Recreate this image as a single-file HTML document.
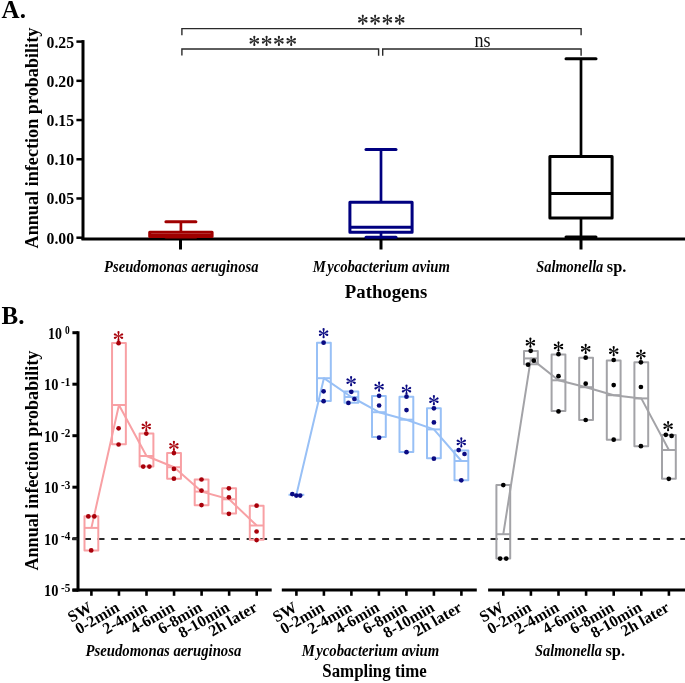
<!DOCTYPE html>
<html><head><meta charset="utf-8"><style>
html,body{margin:0;padding:0;background:#fff;width:685px;height:683px;overflow:hidden}
svg{display:block;will-change:transform}
text{font-family:'Liberation Serif', serif}
</style></head><body>
<svg width="685" height="683" viewBox="0 0 685 683">
<defs><g id="ast"><path d="M-0.2,0 L-0.95,-3.4 A1.12,1.12 0 1 1 0.95,-3.4 L0.2,0 Z" transform="rotate(0)"/><path d="M-0.2,0 L-0.95,-3.4 A1.12,1.12 0 1 1 0.95,-3.4 L0.2,0 Z" transform="rotate(65)"/><path d="M-0.2,0 L-0.95,-3.4 A1.12,1.12 0 1 1 0.95,-3.4 L0.2,0 Z" transform="rotate(115)"/><path d="M-0.2,0 L-0.95,-3.4 A1.12,1.12 0 1 1 0.95,-3.4 L0.2,0 Z" transform="rotate(180)"/><path d="M-0.2,0 L-0.95,-3.4 A1.12,1.12 0 1 1 0.95,-3.4 L0.2,0 Z" transform="rotate(245)"/><path d="M-0.2,0 L-0.95,-3.4 A1.12,1.12 0 1 1 0.95,-3.4 L0.2,0 Z" transform="rotate(295)"/><circle r="0.5"/></g></defs>
<text x="1.6" y="17.8" font-size="25" font-weight="bold" font-style="normal" text-anchor="start" fill="#000">A.</text>
<text x="0" y="0" font-size="18" font-weight="bold" font-style="normal" text-anchor="middle" fill="#000" textLength="220.8" lengthAdjust="spacingAndGlyphs" transform="translate(37.9,138.1) rotate(-90)">Annual infection probability</text>
<line x1="83.0" y1="40.099999999999994" x2="83.0" y2="240" stroke="#000" stroke-width="3"/>
<line x1="76.4" y1="237.7" x2="83.0" y2="237.7" stroke="#000" stroke-width="2.5"/>
<text x="74.1" y="243.7" font-size="16" font-weight="bold" font-style="normal" text-anchor="end" fill="#000" textLength="27.6" lengthAdjust="spacingAndGlyphs">0.00</text>
<line x1="76.4" y1="198.48" x2="83.0" y2="198.48" stroke="#000" stroke-width="2.5"/>
<text x="74.1" y="204.48" font-size="16" font-weight="bold" font-style="normal" text-anchor="end" fill="#000" textLength="27.6" lengthAdjust="spacingAndGlyphs">0.05</text>
<line x1="76.4" y1="159.26" x2="83.0" y2="159.26" stroke="#000" stroke-width="2.5"/>
<text x="74.1" y="165.26" font-size="16" font-weight="bold" font-style="normal" text-anchor="end" fill="#000" textLength="27.6" lengthAdjust="spacingAndGlyphs">0.10</text>
<line x1="76.4" y1="120.03999999999999" x2="83.0" y2="120.03999999999999" stroke="#000" stroke-width="2.5"/>
<text x="74.1" y="126.04" font-size="16" font-weight="bold" font-style="normal" text-anchor="end" fill="#000" textLength="27.6" lengthAdjust="spacingAndGlyphs">0.15</text>
<line x1="76.4" y1="80.82" x2="83.0" y2="80.82" stroke="#000" stroke-width="2.5"/>
<text x="74.1" y="86.82" font-size="16" font-weight="bold" font-style="normal" text-anchor="end" fill="#000" textLength="27.6" lengthAdjust="spacingAndGlyphs">0.20</text>
<line x1="76.4" y1="41.599999999999994" x2="83.0" y2="41.599999999999994" stroke="#000" stroke-width="2.5"/>
<text x="74.1" y="47.6" font-size="16" font-weight="bold" font-style="normal" text-anchor="end" fill="#000" textLength="27.6" lengthAdjust="spacingAndGlyphs">0.25</text>
<line x1="81.5" y1="239.1" x2="685" y2="239.1" stroke="#000" stroke-width="3"/>
<line x1="180.5" y1="239" x2="180.5" y2="249.5" stroke="#000" stroke-width="3"/>
<line x1="381" y1="239" x2="381" y2="249.5" stroke="#000" stroke-width="3"/>
<line x1="581" y1="239" x2="581" y2="249.5" stroke="#000" stroke-width="3"/>
<text x="181.3" y="271.9" font-size="16" font-weight="bold" font-style="italic" text-anchor="middle" fill="#000" textLength="154.4" lengthAdjust="spacingAndGlyphs">Pseudomonas aeruginosa</text>
<text x="381.3" y="272.0" font-size="16" font-weight="bold" font-style="italic" text-anchor="middle" fill="#000" textLength="137.2" lengthAdjust="spacingAndGlyphs">M<tspan dx="1.5">ycobacterium avium</tspan></text>
<text x="536.3" y="272.0" font-size="16" font-weight="bold"><tspan font-style="italic" textLength="67" lengthAdjust="spacingAndGlyphs">Salmonella</tspan><tspan dx="3.5" textLength="19.5" lengthAdjust="spacingAndGlyphs">sp.</tspan></text>
<text x="386" y="298" font-size="18" font-weight="bold" font-style="normal" text-anchor="middle" fill="#000" textLength="82.4" lengthAdjust="spacingAndGlyphs">Pathogens</text>
<line x1="180.9" y1="221.7" x2="180.9" y2="232.2" stroke="#a00000" stroke-width="2.7"/>
<line x1="180.9" y1="236.4" x2="180.9" y2="237.0" stroke="#a00000" stroke-width="2.7"/>
<line x1="165.9" y1="221.7" x2="195.9" y2="221.7" stroke="#a00000" stroke-width="3" stroke-linecap="round"/>
<line x1="165.9" y1="237.0" x2="195.9" y2="237.0" stroke="#a00000" stroke-width="3" stroke-linecap="round"/>
<rect x="149.70000000000002" y="232.2" width="62.4" height="4.200000000000017" fill="none" stroke="#a00000" stroke-width="3" stroke-linejoin="round"/>
<line x1="149.70000000000002" y1="235.3" x2="212.1" y2="235.3" stroke="#a00000" stroke-width="3"/>
<line x1="381.0" y1="149.6" x2="381.0" y2="202.3" stroke="#000080" stroke-width="2.7"/>
<line x1="381.0" y1="232.3" x2="381.0" y2="237.2" stroke="#000080" stroke-width="2.7"/>
<line x1="366.0" y1="149.6" x2="396.0" y2="149.6" stroke="#000080" stroke-width="3" stroke-linecap="round"/>
<line x1="366.0" y1="237.2" x2="396.0" y2="237.2" stroke="#000080" stroke-width="3" stroke-linecap="round"/>
<rect x="349.9" y="202.3" width="62.2" height="30.0" fill="none" stroke="#000080" stroke-width="3" stroke-linejoin="round"/>
<line x1="349.9" y1="227.2" x2="412.1" y2="227.2" stroke="#000080" stroke-width="3"/>
<line x1="581.0" y1="58.8" x2="581.0" y2="156.4" stroke="#000" stroke-width="2.7"/>
<line x1="581.0" y1="217.9" x2="581.0" y2="236.9" stroke="#000" stroke-width="2.7"/>
<line x1="566.0" y1="58.8" x2="596.0" y2="58.8" stroke="#000" stroke-width="3" stroke-linecap="round"/>
<line x1="566.0" y1="236.9" x2="596.0" y2="236.9" stroke="#000" stroke-width="3" stroke-linecap="round"/>
<rect x="549.9" y="156.4" width="62.2" height="61.5" fill="none" stroke="#000" stroke-width="3" stroke-linejoin="round"/>
<line x1="549.9" y1="193.6" x2="612.1" y2="193.6" stroke="#000" stroke-width="3"/>
<path d="M181.9,35.3 V28.6 H581.1 V35.3" stroke="#2a2a2a" stroke-width="1.4" fill="none"/>
<path d="M181.9,55.6 V49.0 H378.6 V55.8" stroke="#2a2a2a" stroke-width="1.4" fill="none"/>
<path d="M382.7,55.8 V49.0 H581.1 V55.8" stroke="#2a2a2a" stroke-width="1.4" fill="none"/>
<use href="#ast" transform="translate(362.8,19.75) scale(1.0)" fill="#222"/>
<use href="#ast" transform="translate(375.1,19.75) scale(1.0)" fill="#222"/>
<use href="#ast" transform="translate(387.4,19.75) scale(1.0)" fill="#222"/>
<use href="#ast" transform="translate(399.7,19.75) scale(1.0)" fill="#222"/>
<use href="#ast" transform="translate(254.3,40.8) scale(1.0)" fill="#222"/>
<use href="#ast" transform="translate(266.6,40.8) scale(1.0)" fill="#222"/>
<use href="#ast" transform="translate(278.9,40.8) scale(1.0)" fill="#222"/>
<use href="#ast" transform="translate(291.2,40.8) scale(1.0)" fill="#222"/>
<text x="482.6" y="47.1" font-size="20" font-weight="normal" font-style="normal" text-anchor="middle" fill="#111" textLength="16.1" lengthAdjust="spacingAndGlyphs">ns</text>
<text x="1.6" y="323.8" font-size="25" font-weight="bold" font-style="normal" text-anchor="start" fill="#000">B.</text>
<text x="0" y="0" font-size="18" font-weight="bold" font-style="normal" text-anchor="middle" fill="#000" textLength="220" lengthAdjust="spacingAndGlyphs" transform="translate(37.6,460.6) rotate(-90)">Annual infection probability</text>
<line x1="78.0" y1="331.3" x2="78.0" y2="591.5" stroke="#000" stroke-width="3"/>
<line x1="72.4" y1="332.7" x2="78.0" y2="332.7" stroke="#000" stroke-width="3"/>
<text y="338.60" font-size="16" font-weight="bold"><tspan x="48.0" textLength="13.9" lengthAdjust="spacingAndGlyphs">10</tspan><tspan x="65.0" dy="-4.6" font-size="11.5" textLength="4.7" lengthAdjust="spacingAndGlyphs">0</tspan></text>
<line x1="72.4" y1="384.2" x2="78.0" y2="384.2" stroke="#000" stroke-width="3"/>
<text y="390.10" font-size="16" font-weight="bold"><tspan x="44.0" textLength="14.4" lengthAdjust="spacingAndGlyphs">10</tspan><tspan x="61.0" dy="-4.6" font-size="11.5" textLength="9.3" lengthAdjust="spacingAndGlyphs">-1</tspan></text>
<line x1="72.4" y1="435.7" x2="78.0" y2="435.7" stroke="#000" stroke-width="3"/>
<text y="441.60" font-size="16" font-weight="bold"><tspan x="44.0" textLength="14.4" lengthAdjust="spacingAndGlyphs">10</tspan><tspan x="61.0" dy="-4.6" font-size="11.5" textLength="9.3" lengthAdjust="spacingAndGlyphs">-2</tspan></text>
<line x1="72.4" y1="487.2" x2="78.0" y2="487.2" stroke="#000" stroke-width="3"/>
<text y="493.10" font-size="16" font-weight="bold"><tspan x="44.0" textLength="14.4" lengthAdjust="spacingAndGlyphs">10</tspan><tspan x="61.0" dy="-4.6" font-size="11.5" textLength="9.3" lengthAdjust="spacingAndGlyphs">-3</tspan></text>
<line x1="72.4" y1="538.7" x2="78.0" y2="538.7" stroke="#000" stroke-width="3"/>
<text y="544.60" font-size="16" font-weight="bold"><tspan x="44.0" textLength="14.4" lengthAdjust="spacingAndGlyphs">10</tspan><tspan x="61.0" dy="-4.6" font-size="11.5" textLength="9.3" lengthAdjust="spacingAndGlyphs">-4</tspan></text>
<line x1="72.4" y1="590.2" x2="78.0" y2="590.2" stroke="#000" stroke-width="3"/>
<text y="596.10" font-size="16" font-weight="bold"><tspan x="44.0" textLength="14.4" lengthAdjust="spacingAndGlyphs">10</tspan><tspan x="61.0" dy="-4.6" font-size="11.5" textLength="9.3" lengthAdjust="spacingAndGlyphs">-5</tspan></text>
<line x1="72" y1="539" x2="685" y2="539" stroke="#2a2a2a" stroke-width="2" stroke-dasharray="6.9 6.65" stroke-dashoffset="1.5"/>
<line x1="72.4" y1="590" x2="271.7" y2="590" stroke="#000" stroke-width="3"/>
<line x1="91.4" y1="590" x2="91.4" y2="595.8" stroke="#000" stroke-width="2.6"/>
<line x1="118.95" y1="590" x2="118.95" y2="595.8" stroke="#000" stroke-width="2.6"/>
<line x1="146.5" y1="590" x2="146.5" y2="595.8" stroke="#000" stroke-width="2.6"/>
<line x1="174.05" y1="590" x2="174.05" y2="595.8" stroke="#000" stroke-width="2.6"/>
<line x1="201.60000000000002" y1="590" x2="201.60000000000002" y2="595.8" stroke="#000" stroke-width="2.6"/>
<line x1="229.15" y1="590" x2="229.15" y2="595.8" stroke="#000" stroke-width="2.6"/>
<line x1="256.70000000000005" y1="590" x2="256.70000000000005" y2="595.8" stroke="#000" stroke-width="2.6"/>
<rect x="84.50" y="516.2" width="13.8" height="34.20" fill="none" stroke="#f8a0a4" stroke-width="2" stroke-linejoin="round"/>
<line x1="84.5" y1="527.9" x2="98.3" y2="527.9" stroke="#f8a0a4" stroke-width="2"/>
<rect x="112.05" y="343.0" width="13.8" height="101.20" fill="none" stroke="#f8a0a4" stroke-width="2" stroke-linejoin="round"/>
<line x1="112.05" y1="405.0" x2="125.85" y2="405.0" stroke="#f8a0a4" stroke-width="2"/>
<rect x="139.60" y="433.6" width="13.8" height="33.00" fill="none" stroke="#f8a0a4" stroke-width="2" stroke-linejoin="round"/>
<line x1="139.6" y1="456.0" x2="153.4" y2="456.0" stroke="#f8a0a4" stroke-width="2"/>
<rect x="167.15" y="453.1" width="13.8" height="25.60" fill="none" stroke="#f8a0a4" stroke-width="2" stroke-linejoin="round"/>
<line x1="167.15" y1="467.2" x2="180.95" y2="467.2" stroke="#f8a0a4" stroke-width="2"/>
<rect x="194.70" y="479.5" width="13.8" height="25.70" fill="none" stroke="#f8a0a4" stroke-width="2" stroke-linejoin="round"/>
<line x1="194.7" y1="491.6" x2="208.5" y2="491.6" stroke="#f8a0a4" stroke-width="2"/>
<rect x="222.25" y="488.3" width="13.8" height="25.10" fill="none" stroke="#f8a0a4" stroke-width="2" stroke-linejoin="round"/>
<line x1="222.25" y1="499.3" x2="236.05" y2="499.3" stroke="#f8a0a4" stroke-width="2"/>
<rect x="249.80" y="505.7" width="13.8" height="34.00" fill="none" stroke="#f8a0a4" stroke-width="2" stroke-linejoin="round"/>
<line x1="249.8" y1="525.5" x2="263.6" y2="525.5" stroke="#f8a0a4" stroke-width="2"/>
<polyline points="91.40,527.9 118.95,405.0 146.50,456.0 174.05,467.2 201.60,491.6 229.15,499.3 256.70,525.5" fill="none" stroke="#f8a0a4" stroke-width="2" stroke-linejoin="round"/>
<circle cx="88.3" cy="516.4" r="2.35" fill="#a8000a"/>
<circle cx="94.3" cy="516.4" r="2.35" fill="#a8000a"/>
<circle cx="91.2" cy="550.4" r="2.35" fill="#a8000a"/>
<circle cx="118.6" cy="343.2" r="2.35" fill="#a8000a"/>
<circle cx="118.6" cy="428.3" r="2.35" fill="#a8000a"/>
<circle cx="118.6" cy="444.5" r="2.35" fill="#a8000a"/>
<use href="#ast" transform="translate(118.5,336.1) scale(1.0)" fill="#a8000a"/>
<circle cx="146.3" cy="433.6" r="2.35" fill="#a8000a"/>
<circle cx="143.2" cy="466.6" r="2.35" fill="#a8000a"/>
<circle cx="149.4" cy="466.6" r="2.35" fill="#a8000a"/>
<use href="#ast" transform="translate(146.3,426.4) scale(1.0)" fill="#a8000a"/>
<circle cx="173.9" cy="453.1" r="2.35" fill="#a8000a"/>
<circle cx="173.9" cy="468.9" r="2.35" fill="#a8000a"/>
<circle cx="173.9" cy="478.7" r="2.35" fill="#a8000a"/>
<use href="#ast" transform="translate(173.9,445.9) scale(1.0)" fill="#a8000a"/>
<circle cx="201.5" cy="479.5" r="2.35" fill="#a8000a"/>
<circle cx="201.5" cy="490.6" r="2.35" fill="#a8000a"/>
<circle cx="201.5" cy="505.1" r="2.35" fill="#a8000a"/>
<circle cx="228.9" cy="488.3" r="2.35" fill="#a8000a"/>
<circle cx="228.9" cy="497.3" r="2.35" fill="#a8000a"/>
<circle cx="228.9" cy="513.8" r="2.35" fill="#a8000a"/>
<circle cx="256.6" cy="505.7" r="2.35" fill="#a8000a"/>
<circle cx="256.6" cy="531.5" r="2.35" fill="#a8000a"/>
<circle cx="256.6" cy="540.1" r="2.35" fill="#a8000a"/>
<text x="0" y="0" font-size="16" font-weight="bold" font-style="normal" text-anchor="end" fill="#000" transform="translate(93.00,610.4) rotate(-30)">SW</text>
<text x="0" y="0" font-size="16" font-weight="bold" font-style="normal" text-anchor="end" fill="#000" transform="translate(120.55,610.4) rotate(-30)">0-2min</text>
<text x="0" y="0" font-size="16" font-weight="bold" font-style="normal" text-anchor="end" fill="#000" transform="translate(148.10,610.4) rotate(-30)">2-4min</text>
<text x="0" y="0" font-size="16" font-weight="bold" font-style="normal" text-anchor="end" fill="#000" transform="translate(175.65,610.4) rotate(-30)">4-6min</text>
<text x="0" y="0" font-size="16" font-weight="bold" font-style="normal" text-anchor="end" fill="#000" transform="translate(203.20,610.4) rotate(-30)">6-8min</text>
<text x="0" y="0" font-size="16" font-weight="bold" font-style="normal" text-anchor="end" fill="#000" transform="translate(230.75,610.4) rotate(-30)">8-10min</text>
<text x="0" y="0" font-size="16" font-weight="bold" font-style="normal" text-anchor="end" fill="#000" transform="translate(258.30,610.4) rotate(-30)">2h later</text>
<line x1="281.8" y1="590" x2="476.8" y2="590" stroke="#000" stroke-width="3"/>
<line x1="296.4" y1="590" x2="296.4" y2="595.8" stroke="#000" stroke-width="2.6"/>
<line x1="323.9" y1="590" x2="323.9" y2="595.8" stroke="#000" stroke-width="2.6"/>
<line x1="351.4" y1="590" x2="351.4" y2="595.8" stroke="#000" stroke-width="2.6"/>
<line x1="378.9" y1="590" x2="378.9" y2="595.8" stroke="#000" stroke-width="2.6"/>
<line x1="406.4" y1="590" x2="406.4" y2="595.8" stroke="#000" stroke-width="2.6"/>
<line x1="433.9" y1="590" x2="433.9" y2="595.8" stroke="#000" stroke-width="2.6"/>
<line x1="461.4" y1="590" x2="461.4" y2="595.8" stroke="#000" stroke-width="2.6"/>
<line x1="288.5" y1="494.8" x2="304.29999999999995" y2="494.8" stroke="#98c0f6" stroke-width="2"/>
<rect x="317.00" y="342.7" width="13.8" height="58.20" fill="none" stroke="#98c0f6" stroke-width="2" stroke-linejoin="round"/>
<line x1="317.0" y1="378.2" x2="330.8" y2="378.2" stroke="#98c0f6" stroke-width="2"/>
<rect x="344.50" y="391.6" width="13.8" height="11.20" fill="none" stroke="#98c0f6" stroke-width="2" stroke-linejoin="round"/>
<line x1="344.5" y1="397.0" x2="358.3" y2="397.0" stroke="#98c0f6" stroke-width="2"/>
<rect x="372.00" y="396.0" width="13.8" height="41.10" fill="none" stroke="#98c0f6" stroke-width="2" stroke-linejoin="round"/>
<line x1="372.0" y1="412.2" x2="385.8" y2="412.2" stroke="#98c0f6" stroke-width="2"/>
<rect x="399.50" y="396.7" width="13.8" height="55.40" fill="none" stroke="#98c0f6" stroke-width="2" stroke-linejoin="round"/>
<line x1="399.5" y1="419.7" x2="413.3" y2="419.7" stroke="#98c0f6" stroke-width="2"/>
<rect x="427.00" y="408.3" width="13.8" height="49.90" fill="none" stroke="#98c0f6" stroke-width="2" stroke-linejoin="round"/>
<line x1="427.0" y1="429.4" x2="440.8" y2="429.4" stroke="#98c0f6" stroke-width="2"/>
<rect x="454.50" y="450.5" width="13.8" height="29.80" fill="none" stroke="#98c0f6" stroke-width="2" stroke-linejoin="round"/>
<line x1="454.5" y1="461.0" x2="468.3" y2="461.0" stroke="#98c0f6" stroke-width="2"/>
<polyline points="296.40,494.8 323.90,378.2 351.40,397.0 378.90,412.2 406.40,419.7 433.90,429.4 461.40,461.0" fill="none" stroke="#98c0f6" stroke-width="2" stroke-linejoin="round"/>
<circle cx="292.3" cy="494.1" r="2.35" fill="#0a0a82"/>
<circle cx="296.3" cy="495.6" r="2.35" fill="#0a0a82"/>
<circle cx="300.2" cy="495.6" r="2.35" fill="#0a0a82"/>
<circle cx="323.6" cy="342.7" r="2.35" fill="#0a0a82"/>
<circle cx="323.6" cy="391.3" r="2.35" fill="#0a0a82"/>
<circle cx="323.6" cy="401.2" r="2.35" fill="#0a0a82"/>
<use href="#ast" transform="translate(323.6,333.2) scale(1.0)" fill="#0a0a82"/>
<circle cx="351.3" cy="391.8" r="2.35" fill="#0a0a82"/>
<circle cx="354.4" cy="399.0" r="2.35" fill="#0a0a82"/>
<circle cx="348.4" cy="402.9" r="2.35" fill="#0a0a82"/>
<use href="#ast" transform="translate(351.1,381.1) scale(1.0)" fill="#0a0a82"/>
<circle cx="379.1" cy="395.8" r="2.35" fill="#0a0a82"/>
<circle cx="379.1" cy="405.5" r="2.35" fill="#0a0a82"/>
<circle cx="379.1" cy="437.7" r="2.35" fill="#0a0a82"/>
<use href="#ast" transform="translate(379.1,386.7) scale(1.0)" fill="#0a0a82"/>
<circle cx="406.5" cy="396.7" r="2.35" fill="#0a0a82"/>
<circle cx="406.5" cy="410.1" r="2.35" fill="#0a0a82"/>
<circle cx="406.5" cy="452.2" r="2.35" fill="#0a0a82"/>
<use href="#ast" transform="translate(406.5,389.7) scale(1.0)" fill="#0a0a82"/>
<circle cx="433.9" cy="408.3" r="2.35" fill="#0a0a82"/>
<circle cx="433.9" cy="422.4" r="2.35" fill="#0a0a82"/>
<circle cx="433.9" cy="458.7" r="2.35" fill="#0a0a82"/>
<use href="#ast" transform="translate(433.9,400.2) scale(1.0)" fill="#0a0a82"/>
<circle cx="458.7" cy="450.1" r="2.35" fill="#0a0a82"/>
<circle cx="464.5" cy="454.0" r="2.35" fill="#0a0a82"/>
<circle cx="461.3" cy="480.3" r="2.35" fill="#0a0a82"/>
<use href="#ast" transform="translate(461.3,442.4) scale(1.0)" fill="#0a0a82"/>
<text x="0" y="0" font-size="16" font-weight="bold" font-style="normal" text-anchor="end" fill="#000" transform="translate(298.00,610.4) rotate(-30)">SW</text>
<text x="0" y="0" font-size="16" font-weight="bold" font-style="normal" text-anchor="end" fill="#000" transform="translate(325.50,610.4) rotate(-30)">0-2min</text>
<text x="0" y="0" font-size="16" font-weight="bold" font-style="normal" text-anchor="end" fill="#000" transform="translate(353.00,610.4) rotate(-30)">2-4min</text>
<text x="0" y="0" font-size="16" font-weight="bold" font-style="normal" text-anchor="end" fill="#000" transform="translate(380.50,610.4) rotate(-30)">4-6min</text>
<text x="0" y="0" font-size="16" font-weight="bold" font-style="normal" text-anchor="end" fill="#000" transform="translate(408.00,610.4) rotate(-30)">6-8min</text>
<text x="0" y="0" font-size="16" font-weight="bold" font-style="normal" text-anchor="end" fill="#000" transform="translate(435.50,610.4) rotate(-30)">8-10min</text>
<text x="0" y="0" font-size="16" font-weight="bold" font-style="normal" text-anchor="end" fill="#000" transform="translate(463.00,610.4) rotate(-30)">2h later</text>
<line x1="488.1" y1="590" x2="685" y2="590" stroke="#000" stroke-width="3"/>
<line x1="503.3" y1="590" x2="503.3" y2="595.8" stroke="#000" stroke-width="2.6"/>
<line x1="530.9" y1="590" x2="530.9" y2="595.8" stroke="#000" stroke-width="2.6"/>
<line x1="558.5" y1="590" x2="558.5" y2="595.8" stroke="#000" stroke-width="2.6"/>
<line x1="586.1" y1="590" x2="586.1" y2="595.8" stroke="#000" stroke-width="2.6"/>
<line x1="613.7" y1="590" x2="613.7" y2="595.8" stroke="#000" stroke-width="2.6"/>
<line x1="641.3" y1="590" x2="641.3" y2="595.8" stroke="#000" stroke-width="2.6"/>
<line x1="668.9000000000001" y1="590" x2="668.9000000000001" y2="595.8" stroke="#000" stroke-width="2.6"/>
<rect x="496.40" y="485.1" width="13.8" height="73.50" fill="none" stroke="#a3a3a7" stroke-width="2" stroke-linejoin="round"/>
<line x1="496.4" y1="534.2" x2="510.2" y2="534.2" stroke="#a3a3a7" stroke-width="2"/>
<rect x="524.00" y="351.1" width="13.8" height="13.10" fill="none" stroke="#a3a3a7" stroke-width="2" stroke-linejoin="round"/>
<line x1="524.0" y1="358.4" x2="537.8" y2="358.4" stroke="#a3a3a7" stroke-width="2"/>
<rect x="551.60" y="354.5" width="13.8" height="56.60" fill="none" stroke="#a3a3a7" stroke-width="2" stroke-linejoin="round"/>
<line x1="551.6" y1="380.3" x2="565.4" y2="380.3" stroke="#a3a3a7" stroke-width="2"/>
<rect x="579.20" y="357.7" width="13.8" height="62.30" fill="none" stroke="#a3a3a7" stroke-width="2" stroke-linejoin="round"/>
<line x1="579.2" y1="387.2" x2="593.0" y2="387.2" stroke="#a3a3a7" stroke-width="2"/>
<rect x="606.80" y="360.5" width="13.8" height="79.20" fill="none" stroke="#a3a3a7" stroke-width="2" stroke-linejoin="round"/>
<line x1="606.8" y1="395.2" x2="620.6" y2="395.2" stroke="#a3a3a7" stroke-width="2"/>
<rect x="634.40" y="362.3" width="13.8" height="83.90" fill="none" stroke="#a3a3a7" stroke-width="2" stroke-linejoin="round"/>
<line x1="634.4" y1="398.4" x2="648.2" y2="398.4" stroke="#a3a3a7" stroke-width="2"/>
<rect x="662.00" y="435.0" width="13.8" height="43.80" fill="none" stroke="#a3a3a7" stroke-width="2" stroke-linejoin="round"/>
<line x1="662.0" y1="450.0" x2="675.8" y2="450.0" stroke="#a3a3a7" stroke-width="2"/>
<polyline points="503.30,534.2 530.90,358.4 558.50,380.3 586.10,387.2 613.70,395.2 641.30,398.4 668.90,450.0" fill="none" stroke="#a3a3a7" stroke-width="2" stroke-linejoin="round"/>
<circle cx="503.3" cy="485.1" r="2.35" fill="#000"/>
<circle cx="500.1" cy="558.6" r="2.35" fill="#000"/>
<circle cx="506.2" cy="558.6" r="2.35" fill="#000"/>
<circle cx="530.7" cy="350.8" r="2.35" fill="#000"/>
<circle cx="533.8" cy="360.7" r="2.35" fill="#000"/>
<circle cx="528.1" cy="364.7" r="2.35" fill="#000"/>
<use href="#ast" transform="translate(530.4,342.7) scale(1.0)" fill="#000"/>
<circle cx="558.5" cy="354.2" r="2.35" fill="#000"/>
<circle cx="558.5" cy="376.2" r="2.35" fill="#000"/>
<circle cx="558.5" cy="411.4" r="2.35" fill="#000"/>
<use href="#ast" transform="translate(558.5,346.5) scale(1.0)" fill="#000"/>
<circle cx="585.7" cy="357.7" r="2.35" fill="#000"/>
<circle cx="585.7" cy="383.7" r="2.35" fill="#000"/>
<circle cx="585.7" cy="420.0" r="2.35" fill="#000"/>
<use href="#ast" transform="translate(585.7,348.8) scale(1.0)" fill="#000"/>
<circle cx="613.7" cy="360.0" r="2.35" fill="#000"/>
<circle cx="613.7" cy="385.1" r="2.35" fill="#000"/>
<circle cx="613.7" cy="439.7" r="2.35" fill="#000"/>
<use href="#ast" transform="translate(613.7,351.1) scale(1.0)" fill="#000"/>
<circle cx="640.9" cy="362.3" r="2.35" fill="#000"/>
<circle cx="640.9" cy="387.0" r="2.35" fill="#000"/>
<circle cx="640.9" cy="446.2" r="2.35" fill="#000"/>
<use href="#ast" transform="translate(640.9,354.6) scale(1.0)" fill="#000"/>
<circle cx="665.8" cy="434.8" r="2.35" fill="#000"/>
<circle cx="671.6" cy="435.9" r="2.35" fill="#000"/>
<circle cx="668.8" cy="478.8" r="2.35" fill="#000"/>
<use href="#ast" transform="translate(668.1,426.1) scale(1.0)" fill="#000"/>
<text x="0" y="0" font-size="16" font-weight="bold" font-style="normal" text-anchor="end" fill="#000" transform="translate(504.90,610.4) rotate(-30)">SW</text>
<text x="0" y="0" font-size="16" font-weight="bold" font-style="normal" text-anchor="end" fill="#000" transform="translate(532.50,610.4) rotate(-30)">0-2min</text>
<text x="0" y="0" font-size="16" font-weight="bold" font-style="normal" text-anchor="end" fill="#000" transform="translate(560.10,610.4) rotate(-30)">2-4min</text>
<text x="0" y="0" font-size="16" font-weight="bold" font-style="normal" text-anchor="end" fill="#000" transform="translate(587.70,610.4) rotate(-30)">4-6min</text>
<text x="0" y="0" font-size="16" font-weight="bold" font-style="normal" text-anchor="end" fill="#000" transform="translate(615.30,610.4) rotate(-30)">6-8min</text>
<text x="0" y="0" font-size="16" font-weight="bold" font-style="normal" text-anchor="end" fill="#000" transform="translate(642.90,610.4) rotate(-30)">8-10min</text>
<text x="0" y="0" font-size="16" font-weight="bold" font-style="normal" text-anchor="end" fill="#000" transform="translate(670.50,610.4) rotate(-30)">2h later</text>
<text x="163.4" y="655.6" font-size="16" font-weight="bold" font-style="italic" text-anchor="middle" fill="#000" textLength="155.8" lengthAdjust="spacingAndGlyphs">Pseudomonas aeruginosa</text>
<text x="370.5" y="655.6" font-size="16" font-weight="bold" font-style="italic" text-anchor="middle" fill="#000" textLength="137.5" lengthAdjust="spacingAndGlyphs">M<tspan dx="1.5">ycobacterium avium</tspan></text>
<text x="535" y="655.6" font-size="16" font-weight="bold"><tspan font-style="italic" textLength="67" lengthAdjust="spacingAndGlyphs">Salmonella</tspan><tspan dx="3.5" textLength="19.5" lengthAdjust="spacingAndGlyphs">sp.</tspan></text>
<text x="374.5" y="676.8" font-size="18" font-weight="bold" font-style="normal" text-anchor="middle" fill="#000" textLength="104.4" lengthAdjust="spacingAndGlyphs">Sampling time</text>
</svg>
</body></html>
